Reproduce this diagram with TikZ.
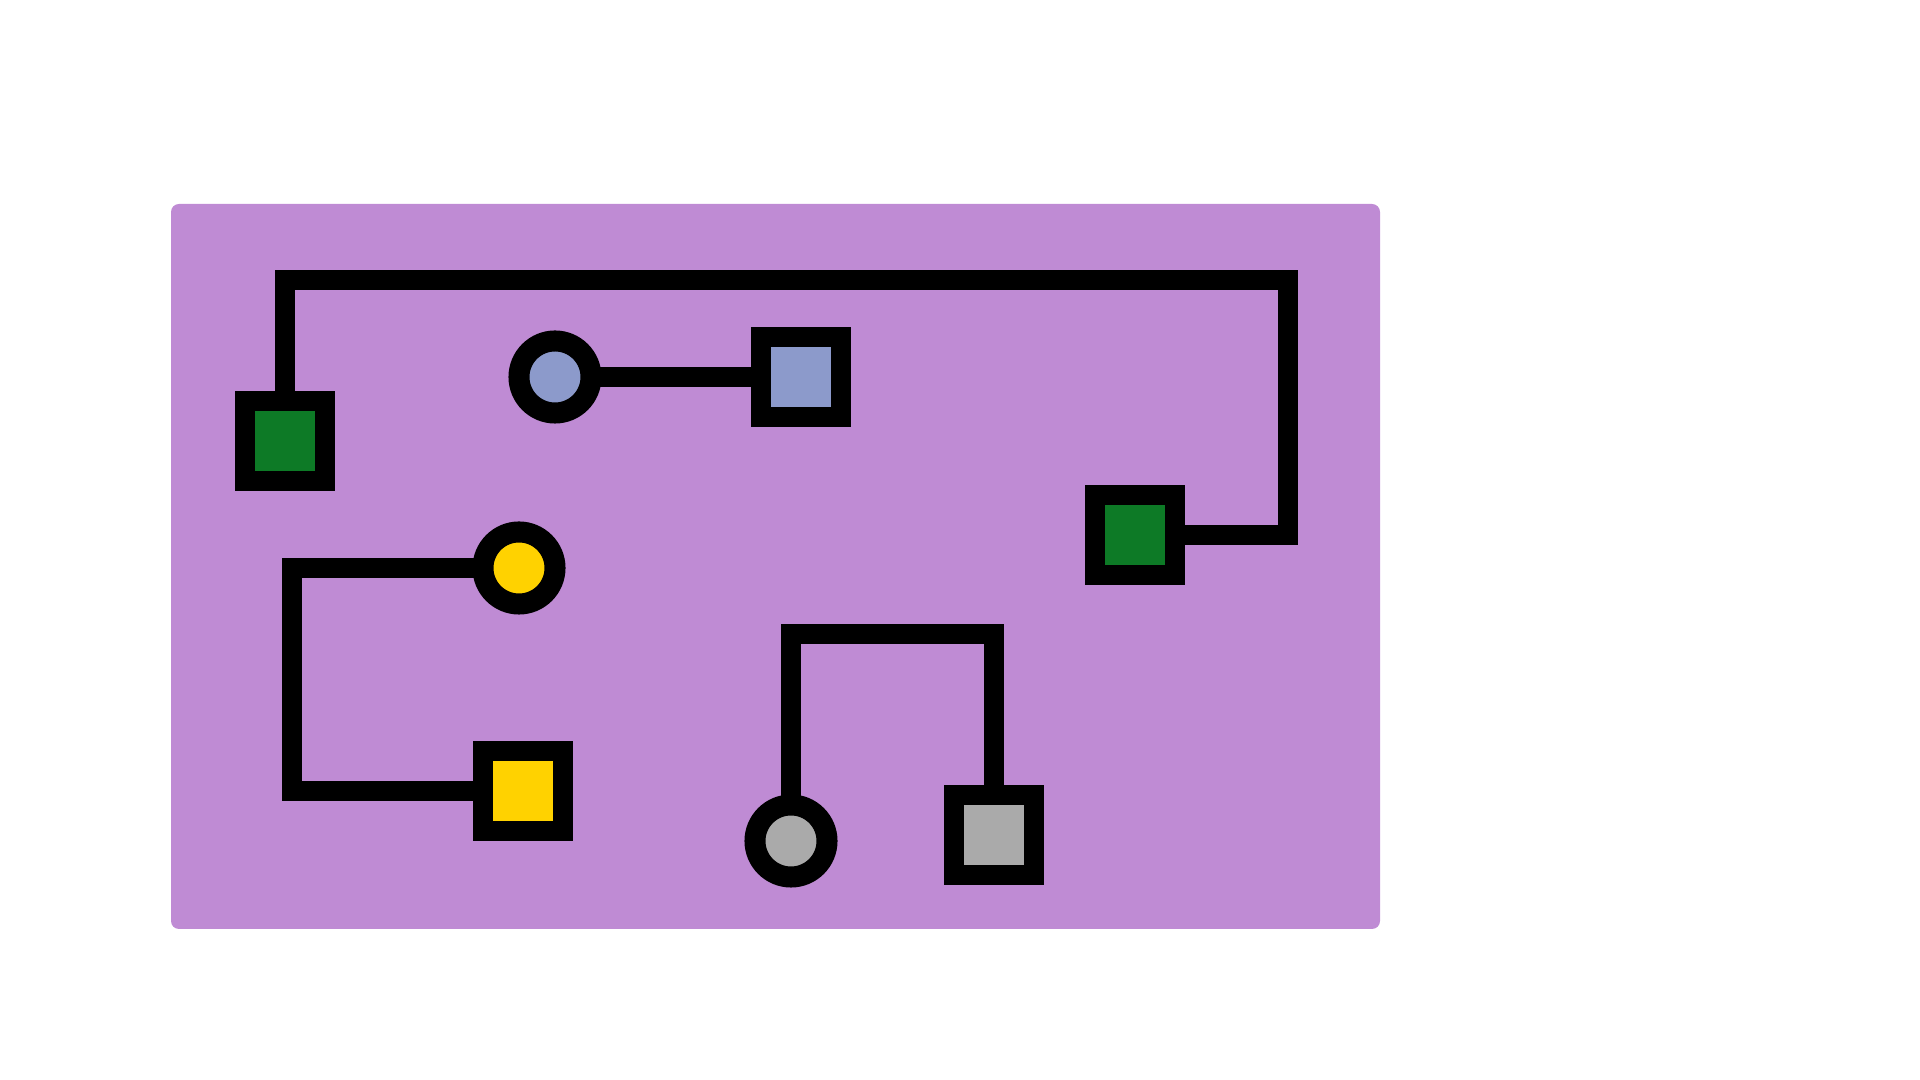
\documentclass[tikz,border=0pt]{standalone}
\usepackage{tikz}
\usetikzlibrary{calc}

\definecolor{boardpurple}{RGB}{191,139,212}
\definecolor{padgreen}{RGB}{13,122,38}
\definecolor{padblue}{RGB}{140,154,203}
\definecolor{padyellow}{RGB}{255,210,0}
\definecolor{padgray}{RGB}{170,170,170}

\begin{document}
\begin{tikzpicture}[x=0.01cm,y=-0.01cm,
    pad/.style={draw=black,line width=0.2cm,inner sep=0pt,minimum size=0.8cm,fill=#1},
    pin/.style={circle,draw=black,line width=0.21cm,inner sep=0pt,minimum size=0.72cm,fill=#1},
    wire/.style={draw=black,line width=0.2cm,shorten <=-0.08cm}]
  \useasboundingbox (0,0) rectangle (1920,1080);
  \fill[boardpurple,rounded corners=0.08cm] (171,204) rectangle (1380,929);
  \node[pad=padgreen] (g1) at (285,441) {};
  \node[pin=padblue] (bc) at (555,377) {};
  \node[pad=padblue] (bs) at (801,377) {};
  \node[pad=padgreen] (g2) at (1135,535) {};
  \node[pin=padyellow] (yc) at (519,568) {};
  \node[pad=padyellow] (ys) at (523,791) {};
  \node[pin=padgray] (gc) at (791,841) {};
  \node[pad=padgray] (gs) at (994,835) {};
  \coordinate (topright) at (1288,280);
  \coordinate (yleft) at (292,568);
  \coordinate (gtop) at (0,634);
  \draw[wire] (g1.north) |- (topright) |- (g2.east);
  \draw[wire] (bc.east) -- (bs.west);
  \draw[wire] (yc.west) -- (yleft) |- (ys.west);
  \draw[wire] (gc.north) |- (gs.north |- gtop) -- (gs.north);
\end{tikzpicture}
\end{document}
